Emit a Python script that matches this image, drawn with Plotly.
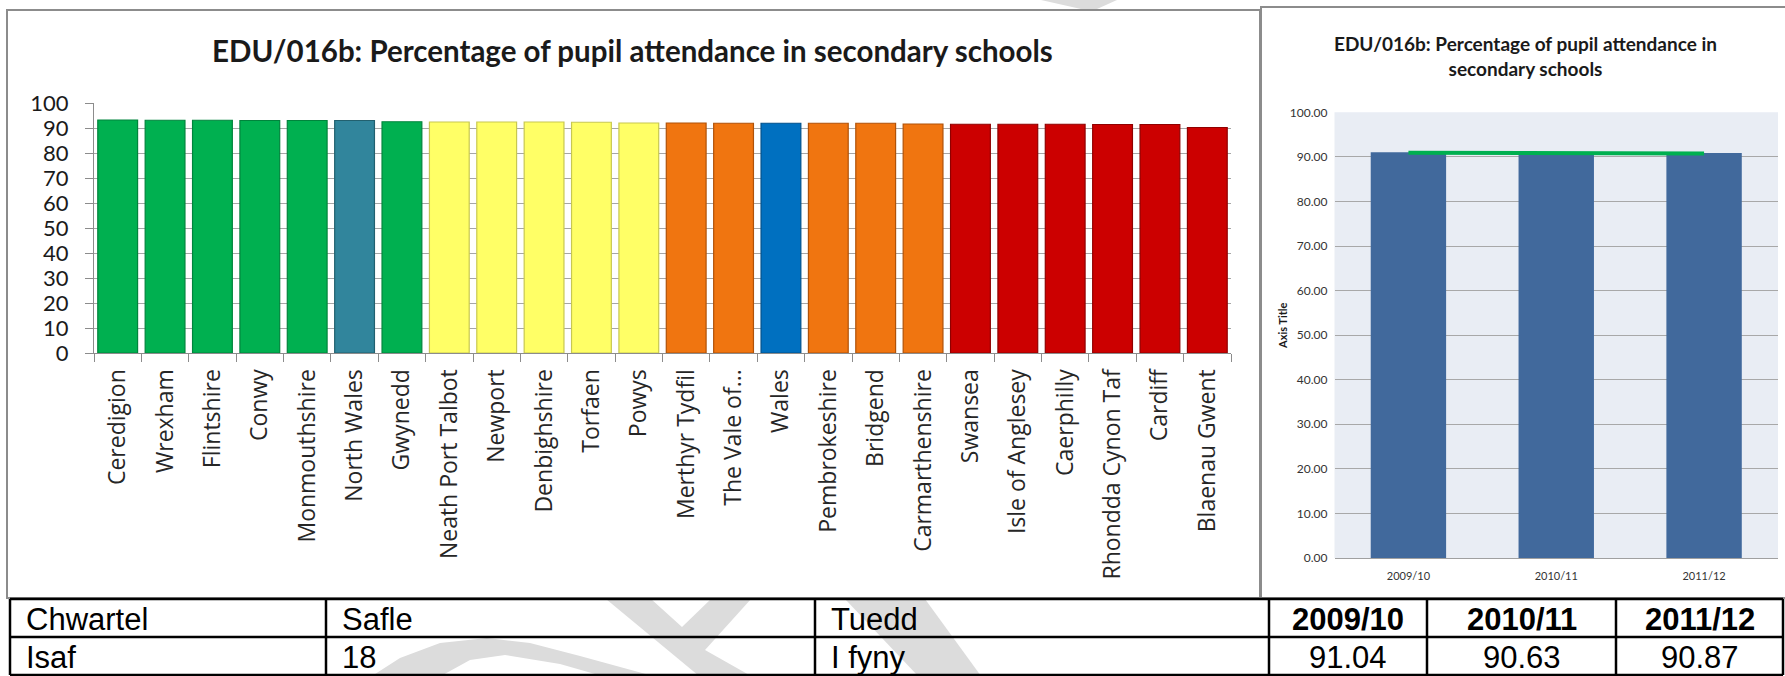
import plotly.graph_objects as go

W, H = 1785, 676

# ---------------- data ----------------
categories = ["Ceredigion", "Wrexham", "Flintshire", "Conwy", "Monmouthshire",
              "North Wales", "Gwynedd", "Neath Port Talbot", "Newport", "Denbighshire",
              "Torfaen", "Powys", "Merthyr Tydfil", "The Vale of...", "Wales",
              "Pembrokeshire", "Bridgend", "Carmarthenshire", "Swansea",
              "Isle of Anglesey", "Caerphilly", "Rhondda Cynon Taf", "Cardiff",
              "Blaenau Gwent"]
attendance = [93.2, 93.1, 93.1, 93.0, 93.0,
              93.0, 92.5, 92.4, 92.4, 92.4,
              92.3, 92.0, 92.0, 91.9, 91.9,
              91.9, 91.9, 91.6, 91.5,
              91.5, 91.5, 91.4, 91.4,
              90.2]
bar_colors = (["#00B050"] * 5 + ["#31859C"] + ["#00B050"] + ["#FFFF66"] * 5 +
              ["#F07510"] * 2 + ["#0070C0"] + ["#F07510"] * 3 + ["#CC0000"] * 6)
edge_colors = (["#00843C"] * 5 + ["#22606F"] + ["#00843C"] + ["#C8C850"] * 5 +
               ["#B05208"] * 2 + ["#00508C"] + ["#B05208"] * 3 + ["#900000"] * 6)

years = ["2009/10", "2010/11", "2011/12"]
year_values = [91.04, 90.63, 90.87]
trend_values = [90.94, 90.85, 90.77]

table_header = ["Chwartel", "Safle", "Tuedd", "2009/10", "2010/11", "2011/12"]
table_row = ["Isaf", "18", "I fyny", "91.04", "90.63", "90.87"]

left_title = "EDU/016b: Percentage of pupil attendance in secondary schools"
right_title = "EDU/016b: Percentage of pupil attendance in<br>secondary schools"

# ---------------- helpers ----------------
def px(x, y):
    return x / W, 1 - y / H

def path(points):
    s = ""
    for i, (x, y) in enumerate(points):
        fx, fy = px(x, y)
        s += ("M" if i == 0 else "L") + f"{fx:.5f},{fy:.5f} "
    return s + "Z"

fig = go.Figure()

# left bar chart
fig.add_trace(go.Bar(
    x=categories, y=attendance, width=0.84,
    marker=dict(color=bar_colors, line=dict(color=edge_colors, width=1.2)),
    xaxis="x", yaxis="y", showlegend=False, hoverinfo="x+y"))

# right bar chart
fig.add_trace(go.Bar(
    x=years, y=year_values, width=0.51,
    marker=dict(color="#41699C", line=dict(width=0)),
    xaxis="x2", yaxis="y2", showlegend=False))
fig.add_trace(go.Scatter(
    x=years, y=trend_values, mode="lines",
    line=dict(color="#00B050", width=4),
    xaxis="x2", yaxis="y2", showlegend=False))

cal = "Lato, Carlito, Calibri, sans-serif"

shapes = []
# watermark fragments
wm = dict(type="path", xref="paper", yref="paper", fillcolor="#DCDCDC",
          line=dict(width=0), layer="below")
for pts in [
    [(372, 676), (400, 658), (440, 643), (487, 638), (530, 643), (580, 656), (653, 676),
     (602, 676), (560, 664), (505, 655), (470, 660), (441, 676)],
    [(606, 599), (651, 599), (682, 627), (711, 599), (751, 599), (705, 650), (751, 676), (699, 676)],
    [(845, 599), (925, 599), (981, 676), (918, 676)],
    [(1041, 0), (1117, 0), (1097, 9), (1081, 9)],
]:
    shapes.append(dict(wm, path=path(pts)))

# right plot background
shapes.append(dict(type="rect", xref="x2 domain", yref="y2 domain", x0=0, x1=1, y0=0, y1=1,
                   fillcolor="#E9EDF4", line=dict(width=0), layer="below"))

# chart frames
def rect_px(x0, y0, x1, y1, color, width):
    a = px(x0, y0); b = px(x1, y1)
    return dict(type="rect", xref="paper", yref="paper", x0=a[0], y0=b[1], x1=b[0], y1=a[1],
                line=dict(color=color, width=width), fillcolor="rgba(0,0,0,0)", layer="above")

shapes.append(rect_px(7, 10, 1260, 598, "#8C8C8C", 2))
shapes.append(rect_px(1261, 7, 1800, 598, "#8C8C8C", 2))

# table grid
def line_px(x0, y0, x1, y1, color="#000000", width=2.5):
    a = px(x0, y0); b = px(x1, y1)
    return dict(type="line", xref="paper", yref="paper", x0=a[0], y0=a[1], x1=b[0], y1=b[1],
                line=dict(color=color, width=width), layer="above")

col_edges = [10, 326, 815, 1269, 1427, 1616, 1783]
row_edges = [599, 637, 675]
for yy in row_edges:
    shapes.append(line_px(col_edges[0], yy, col_edges[-1], yy))
for xx in col_edges:
    shapes.append(line_px(xx, row_edges[0], xx, row_edges[-1]))

annotations = []
# titles
tx, ty = px(632, 50)
annotations.append(dict(text=left_title, x=tx, y=ty, xref="paper", yref="paper",
                        showarrow=False, xanchor="center", yanchor="middle",
                        font=dict(family=cal, size=29.5, color="#1A1A1A", weight="bold")))
tx, ty = px(1525, 56)
annotations.append(dict(text=right_title, x=tx, y=ty, xref="paper", yref="paper",
                        showarrow=False, xanchor="center", yanchor="middle",
                        font=dict(family=cal, size=19, color="#1A1A1A", weight="bold")))
tx, ty = px(1282, 326)
annotations.append(dict(text="Axis Title", x=tx, y=ty, xref="paper", yref="paper",
                        showarrow=False, textangle=-90, xanchor="center", yanchor="middle",
                        font=dict(family=cal, size=11, color="#1A1A1A", weight="bold")))

# table text
for r, row in enumerate([table_header, table_row]):
    yc = (row_edges[r] + row_edges[r + 1]) / 2 + 1
    for c, val in enumerate(row):
        bold = (r == 0 and c >= 3)
        if c < 3:
            xx, anchor = col_edges[c] + 14, "left"
        else:
            xx, anchor = (col_edges[c] + col_edges[c + 1]) / 2, "center"
        fx, fy = px(xx, yc)
        annotations.append(dict(text=val, x=fx, y=fy, xref="paper", yref="paper",
                                showarrow=False, xanchor=anchor, yanchor="middle",
                                font=dict(family="Liberation Sans", size=31, color="#000000",
                                          weight="bold" if bold else "normal")))

fig.update_layout(
    width=W, height=H, margin=dict(l=0, r=0, t=0, b=0, pad=0, autoexpand=False),
    paper_bgcolor="#FFFFFF", plot_bgcolor="rgba(0,0,0,0)",
    shapes=shapes, annotations=annotations,
    xaxis=dict(domain=[94 / W, 1231 / W], anchor="y", type="category",
               range=[-0.5, len(categories) - 0.5], automargin=False,
               tickangle=-90, tickfont=dict(family="Open Sans", size=23, color="#262626"),
               ticks="outside", tickson="boundaries", ticklen=8, tickcolor="#8C8C8C",
               showline=True, linecolor="#8C8C8C", linewidth=1, showgrid=False,
               ticklabelstandoff=6, fixedrange=True),
    yaxis=dict(domain=[1 - 353 / H, 1 - 103 / H], anchor="x", range=[0, 100], dtick=10,
               automargin=False,
               tickfont=dict(family=cal, size=22, color="#1A1A1A"),
               ticks="outside", ticklen=8, tickcolor="#8C8C8C",
               showline=True, linecolor="#8C8C8C", linewidth=1,
               showgrid=True, gridcolor="#A6A6A6", gridwidth=1, zeroline=False,
               ticklabelstandoff=12, fixedrange=True),
    xaxis2=dict(domain=[1334.5 / W, 1778 / W], anchor="y2", type="category",
                range=[-0.5, 2.5], automargin=False,
                tickfont=dict(family=cal, size=11, color="#333333"),
                ticks="", showline=True, linecolor="#A0A0A0", linewidth=1, showgrid=False,
                ticklabelstandoff=8, fixedrange=True),
    yaxis2=dict(domain=[1 - 558 / H, 1 - 112.3 / H], anchor="x2", range=[0, 100], dtick=10,
                tickformat=".2f", automargin=False,
                tickfont=dict(family=cal, size=12, color="#333333"),
                ticks="", showline=False,
                showgrid=True, gridcolor="#A8A8A8", gridwidth=1, zeroline=False,
                ticklabelstandoff=6, fixedrange=True),
)

fig.write_html("out.html",
               config={"displayModeBar": False},
               post_script="document.body.style.margin='0';document.body.style.overflow='hidden';")
